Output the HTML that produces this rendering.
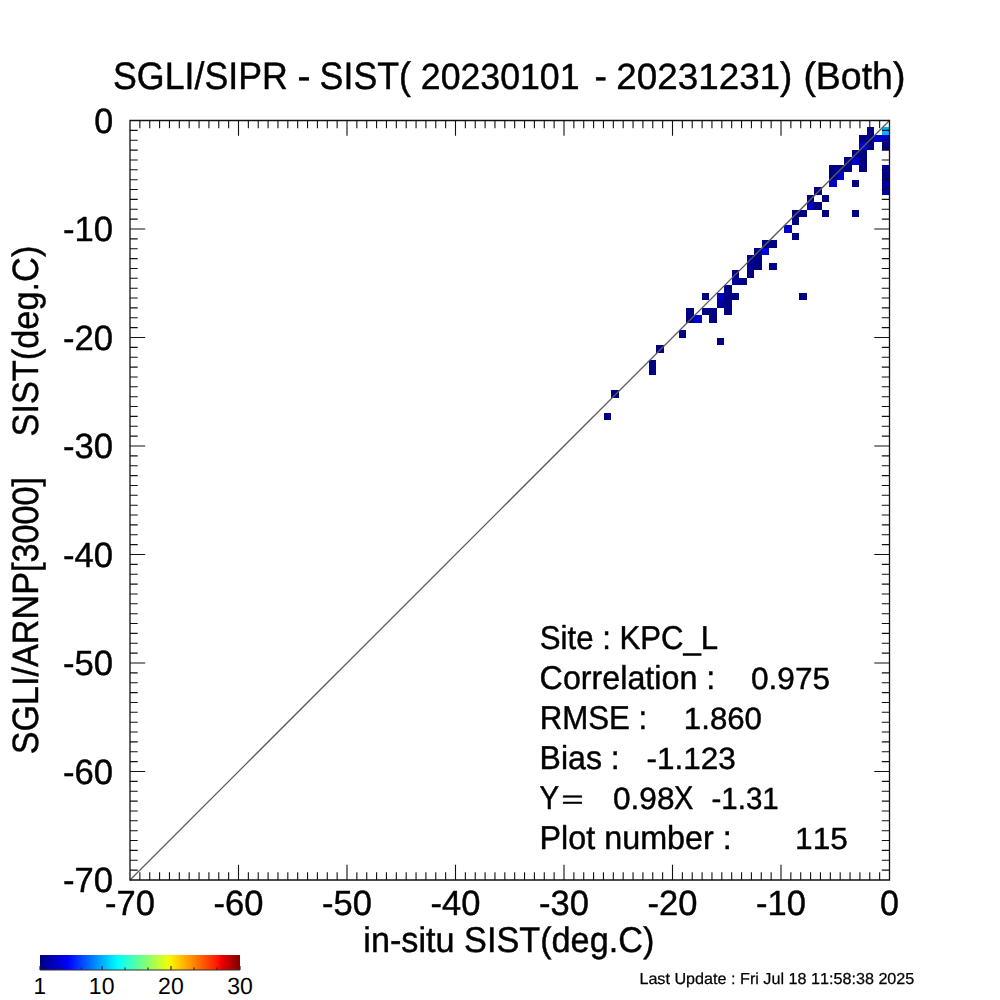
<!DOCTYPE html>
<html><head><meta charset="utf-8"><title>SGLI/SIPR - SIST scatter</title>
<style>html,body{margin:0;padding:0;background:#fff;width:1000px;height:1000px;overflow:hidden}svg{display:block}text{font-kerning:none;text-rendering:geometricPrecision}</style>
</head><body>
<svg width="1000" height="1000" viewBox="0 0 1000 1000" font-family="'Liberation Sans', Arial, Helvetica, sans-serif" fill="#000">
<rect width="1000" height="1000" fill="#fff"/>
<g shape-rendering="crispEdges"><rect x="866.94" y="127.22" width="7.52" height="7.52" fill="rgb(0,0,130)"/><rect x="881.98" y="127.22" width="7.52" height="7.52" fill="rgb(0,178,255)"/><rect x="859.42" y="134.74" width="7.52" height="7.52" fill="rgb(0,0,130)"/><rect x="866.94" y="134.74" width="7.52" height="7.52" fill="rgb(0,0,130)"/><rect x="874.46" y="134.74" width="7.52" height="7.52" fill="rgb(0,0,198)"/><rect x="881.98" y="134.74" width="7.52" height="7.52" fill="rgb(0,0,198)"/><rect x="859.42" y="142.26" width="7.52" height="7.52" fill="rgb(0,0,198)"/><rect x="866.94" y="142.26" width="7.52" height="7.52" fill="rgb(0,0,130)"/><rect x="881.98" y="142.26" width="7.52" height="7.52" fill="rgb(0,0,130)"/><rect x="851.90" y="149.78" width="7.52" height="7.52" fill="rgb(0,0,130)"/><rect x="859.42" y="149.78" width="7.52" height="7.52" fill="rgb(0,0,130)"/><rect x="844.38" y="157.30" width="7.52" height="7.52" fill="rgb(0,0,130)"/><rect x="851.90" y="157.30" width="7.52" height="7.52" fill="rgb(0,0,198)"/><rect x="859.42" y="157.30" width="7.52" height="7.52" fill="rgb(0,0,130)"/><rect x="829.34" y="164.82" width="7.52" height="7.52" fill="rgb(0,0,130)"/><rect x="836.86" y="164.82" width="7.52" height="7.52" fill="rgb(0,0,130)"/><rect x="844.38" y="164.82" width="7.52" height="7.52" fill="rgb(0,0,130)"/><rect x="859.42" y="164.82" width="7.52" height="7.52" fill="rgb(0,0,130)"/><rect x="881.98" y="164.82" width="7.52" height="7.52" fill="rgb(0,0,162)"/><rect x="829.34" y="172.34" width="7.52" height="7.52" fill="rgb(0,0,130)"/><rect x="836.86" y="172.34" width="7.52" height="7.52" fill="rgb(0,0,198)"/><rect x="881.98" y="172.34" width="7.52" height="7.52" fill="rgb(0,0,130)"/><rect x="829.34" y="179.86" width="7.52" height="7.52" fill="rgb(0,0,198)"/><rect x="851.90" y="179.86" width="7.52" height="7.52" fill="rgb(0,0,130)"/><rect x="881.98" y="179.86" width="7.52" height="7.52" fill="rgb(0,0,162)"/><rect x="814.30" y="187.38" width="7.52" height="7.52" fill="rgb(0,0,130)"/><rect x="881.98" y="187.38" width="7.52" height="7.52" fill="rgb(0,0,162)"/><rect x="806.78" y="194.90" width="7.52" height="7.52" fill="rgb(0,0,130)"/><rect x="821.82" y="194.90" width="7.52" height="7.52" fill="rgb(0,0,130)"/><rect x="806.78" y="202.42" width="7.52" height="7.52" fill="rgb(0,0,198)"/><rect x="814.30" y="202.42" width="7.52" height="7.52" fill="rgb(0,0,130)"/><rect x="791.74" y="209.94" width="7.52" height="7.52" fill="rgb(0,0,130)"/><rect x="799.26" y="209.94" width="7.52" height="7.52" fill="rgb(0,0,130)"/><rect x="821.82" y="209.94" width="7.52" height="7.52" fill="rgb(0,0,130)"/><rect x="851.90" y="209.94" width="7.52" height="7.52" fill="rgb(0,0,130)"/><rect x="791.74" y="217.46" width="7.52" height="7.52" fill="rgb(0,0,130)"/><rect x="784.22" y="224.98" width="7.52" height="7.52" fill="rgb(0,0,198)"/><rect x="791.74" y="232.50" width="7.52" height="7.52" fill="rgb(0,0,130)"/><rect x="761.66" y="240.02" width="7.52" height="7.52" fill="rgb(0,0,130)"/><rect x="769.18" y="240.02" width="7.52" height="7.52" fill="rgb(0,0,130)"/><rect x="754.14" y="247.54" width="7.52" height="7.52" fill="rgb(0,0,130)"/><rect x="761.66" y="247.54" width="7.52" height="7.52" fill="rgb(0,0,228)"/><rect x="746.62" y="255.06" width="7.52" height="7.52" fill="rgb(0,0,148)"/><rect x="754.14" y="255.06" width="7.52" height="7.52" fill="rgb(0,0,130)"/><rect x="746.62" y="262.58" width="7.52" height="7.52" fill="rgb(0,0,148)"/><rect x="754.14" y="262.58" width="7.52" height="7.52" fill="rgb(0,0,130)"/><rect x="769.18" y="262.58" width="7.52" height="7.52" fill="rgb(0,0,130)"/><rect x="731.58" y="270.10" width="7.52" height="7.52" fill="rgb(0,0,130)"/><rect x="746.62" y="270.10" width="7.52" height="7.52" fill="rgb(0,0,130)"/><rect x="731.58" y="277.62" width="7.52" height="7.52" fill="rgb(0,0,162)"/><rect x="739.10" y="277.62" width="7.52" height="7.52" fill="rgb(0,0,130)"/><rect x="724.06" y="285.14" width="7.52" height="7.52" fill="rgb(0,0,130)"/><rect x="701.50" y="292.66" width="7.52" height="7.52" fill="rgb(0,0,130)"/><rect x="716.54" y="292.66" width="7.52" height="7.52" fill="rgb(0,0,198)"/><rect x="724.06" y="292.66" width="7.52" height="7.52" fill="rgb(0,0,130)"/><rect x="731.58" y="292.66" width="7.52" height="7.52" fill="rgb(0,0,130)"/><rect x="799.26" y="292.66" width="7.52" height="7.52" fill="rgb(0,0,130)"/><rect x="716.54" y="300.18" width="7.52" height="7.52" fill="rgb(0,0,162)"/><rect x="724.06" y="300.18" width="7.52" height="7.52" fill="rgb(0,0,130)"/><rect x="686.47" y="307.70" width="7.52" height="7.52" fill="rgb(0,0,130)"/><rect x="701.50" y="307.70" width="7.52" height="7.52" fill="rgb(0,0,130)"/><rect x="709.02" y="307.70" width="7.52" height="7.52" fill="rgb(0,0,130)"/><rect x="724.06" y="307.70" width="7.52" height="7.52" fill="rgb(0,0,130)"/><rect x="686.47" y="315.21" width="7.52" height="7.52" fill="rgb(0,0,130)"/><rect x="693.99" y="315.21" width="7.52" height="7.52" fill="rgb(0,0,198)"/><rect x="709.02" y="315.21" width="7.52" height="7.52" fill="rgb(0,0,130)"/><rect x="678.95" y="330.25" width="7.52" height="7.52" fill="rgb(0,0,130)"/><rect x="716.54" y="337.77" width="7.52" height="7.52" fill="rgb(0,0,130)"/><rect x="656.39" y="345.29" width="7.52" height="7.52" fill="rgb(0,0,130)"/><rect x="648.87" y="360.33" width="7.52" height="7.52" fill="rgb(0,0,130)"/><rect x="648.87" y="367.85" width="7.52" height="7.52" fill="rgb(0,0,130)"/><rect x="611.27" y="390.41" width="7.52" height="7.52" fill="rgb(0,0,130)"/><rect x="603.75" y="412.97" width="7.52" height="7.52" fill="rgb(0,0,130)"/></g>
<path d="M130.0 880.0L889.5 120.5" stroke="#5c5c5c" stroke-width="1.25" fill="none"/>
<path d="M139.86 880.00v-7.7M139.86 120.50v7.7M149.73 880.00v-7.7M149.73 120.50v7.7M159.59 880.00v-7.7M159.59 120.50v7.7M169.45 880.00v-7.7M169.45 120.50v7.7M179.32 880.00v-7.7M179.32 120.50v7.7M189.18 880.00v-7.7M189.18 120.50v7.7M199.05 880.00v-7.7M199.05 120.50v7.7M208.91 880.00v-7.7M208.91 120.50v7.7M218.77 880.00v-7.7M218.77 120.50v7.7M228.64 880.00v-7.7M228.64 120.50v7.7M238.50 880.00v-15.2M238.50 120.50v15.2M248.36 880.00v-7.7M248.36 120.50v7.7M258.23 880.00v-7.7M258.23 120.50v7.7M268.09 880.00v-7.7M268.09 120.50v7.7M277.95 880.00v-7.7M277.95 120.50v7.7M287.82 880.00v-7.7M287.82 120.50v7.7M297.68 880.00v-7.7M297.68 120.50v7.7M307.55 880.00v-7.7M307.55 120.50v7.7M317.41 880.00v-7.7M317.41 120.50v7.7M327.27 880.00v-7.7M327.27 120.50v7.7M337.14 880.00v-7.7M337.14 120.50v7.7M347.00 880.00v-15.2M347.00 120.50v15.2M356.86 880.00v-7.7M356.86 120.50v7.7M366.73 880.00v-7.7M366.73 120.50v7.7M376.59 880.00v-7.7M376.59 120.50v7.7M386.45 880.00v-7.7M386.45 120.50v7.7M396.32 880.00v-7.7M396.32 120.50v7.7M406.18 880.00v-7.7M406.18 120.50v7.7M416.05 880.00v-7.7M416.05 120.50v7.7M425.91 880.00v-7.7M425.91 120.50v7.7M435.77 880.00v-7.7M435.77 120.50v7.7M445.64 880.00v-7.7M445.64 120.50v7.7M455.50 880.00v-15.2M455.50 120.50v15.2M465.36 880.00v-7.7M465.36 120.50v7.7M475.23 880.00v-7.7M475.23 120.50v7.7M485.09 880.00v-7.7M485.09 120.50v7.7M494.95 880.00v-7.7M494.95 120.50v7.7M504.82 880.00v-7.7M504.82 120.50v7.7M514.68 880.00v-7.7M514.68 120.50v7.7M524.55 880.00v-7.7M524.55 120.50v7.7M534.41 880.00v-7.7M534.41 120.50v7.7M544.27 880.00v-7.7M544.27 120.50v7.7M554.14 880.00v-7.7M554.14 120.50v7.7M564.00 880.00v-15.2M564.00 120.50v15.2M573.86 880.00v-7.7M573.86 120.50v7.7M583.73 880.00v-7.7M583.73 120.50v7.7M593.59 880.00v-7.7M593.59 120.50v7.7M603.45 880.00v-7.7M603.45 120.50v7.7M613.32 880.00v-7.7M613.32 120.50v7.7M623.18 880.00v-7.7M623.18 120.50v7.7M633.05 880.00v-7.7M633.05 120.50v7.7M642.91 880.00v-7.7M642.91 120.50v7.7M652.77 880.00v-7.7M652.77 120.50v7.7M662.64 880.00v-7.7M662.64 120.50v7.7M672.50 880.00v-15.2M672.50 120.50v15.2M682.36 880.00v-7.7M682.36 120.50v7.7M692.23 880.00v-7.7M692.23 120.50v7.7M702.09 880.00v-7.7M702.09 120.50v7.7M711.95 880.00v-7.7M711.95 120.50v7.7M721.82 880.00v-7.7M721.82 120.50v7.7M731.68 880.00v-7.7M731.68 120.50v7.7M741.55 880.00v-7.7M741.55 120.50v7.7M751.41 880.00v-7.7M751.41 120.50v7.7M761.27 880.00v-7.7M761.27 120.50v7.7M771.14 880.00v-7.7M771.14 120.50v7.7M781.00 880.00v-15.2M781.00 120.50v15.2M790.86 880.00v-7.7M790.86 120.50v7.7M800.73 880.00v-7.7M800.73 120.50v7.7M810.59 880.00v-7.7M810.59 120.50v7.7M820.45 880.00v-7.7M820.45 120.50v7.7M830.32 880.00v-7.7M830.32 120.50v7.7M840.18 880.00v-7.7M840.18 120.50v7.7M850.05 880.00v-7.7M850.05 120.50v7.7M859.91 880.00v-7.7M859.91 120.50v7.7M869.77 880.00v-7.7M869.77 120.50v7.7M879.64 880.00v-7.7M879.64 120.50v7.7M130.00 130.36h7.7M889.50 130.36h-7.7M130.00 140.23h7.7M889.50 140.23h-7.7M130.00 150.09h7.7M889.50 150.09h-7.7M130.00 159.95h7.7M889.50 159.95h-7.7M130.00 169.82h7.7M889.50 169.82h-7.7M130.00 179.68h7.7M889.50 179.68h-7.7M130.00 189.55h7.7M889.50 189.55h-7.7M130.00 199.41h7.7M889.50 199.41h-7.7M130.00 209.27h7.7M889.50 209.27h-7.7M130.00 219.14h7.7M889.50 219.14h-7.7M130.00 229.00h15.2M889.50 229.00h-15.2M130.00 238.86h7.7M889.50 238.86h-7.7M130.00 248.73h7.7M889.50 248.73h-7.7M130.00 258.59h7.7M889.50 258.59h-7.7M130.00 268.45h7.7M889.50 268.45h-7.7M130.00 278.32h7.7M889.50 278.32h-7.7M130.00 288.18h7.7M889.50 288.18h-7.7M130.00 298.05h7.7M889.50 298.05h-7.7M130.00 307.91h7.7M889.50 307.91h-7.7M130.00 317.77h7.7M889.50 317.77h-7.7M130.00 327.64h7.7M889.50 327.64h-7.7M130.00 337.50h15.2M889.50 337.50h-15.2M130.00 347.36h7.7M889.50 347.36h-7.7M130.00 357.23h7.7M889.50 357.23h-7.7M130.00 367.09h7.7M889.50 367.09h-7.7M130.00 376.95h7.7M889.50 376.95h-7.7M130.00 386.82h7.7M889.50 386.82h-7.7M130.00 396.68h7.7M889.50 396.68h-7.7M130.00 406.55h7.7M889.50 406.55h-7.7M130.00 416.41h7.7M889.50 416.41h-7.7M130.00 426.27h7.7M889.50 426.27h-7.7M130.00 436.14h7.7M889.50 436.14h-7.7M130.00 446.00h15.2M889.50 446.00h-15.2M130.00 455.86h7.7M889.50 455.86h-7.7M130.00 465.73h7.7M889.50 465.73h-7.7M130.00 475.59h7.7M889.50 475.59h-7.7M130.00 485.45h7.7M889.50 485.45h-7.7M130.00 495.32h7.7M889.50 495.32h-7.7M130.00 505.18h7.7M889.50 505.18h-7.7M130.00 515.05h7.7M889.50 515.05h-7.7M130.00 524.91h7.7M889.50 524.91h-7.7M130.00 534.77h7.7M889.50 534.77h-7.7M130.00 544.64h7.7M889.50 544.64h-7.7M130.00 554.50h15.2M889.50 554.50h-15.2M130.00 564.36h7.7M889.50 564.36h-7.7M130.00 574.23h7.7M889.50 574.23h-7.7M130.00 584.09h7.7M889.50 584.09h-7.7M130.00 593.95h7.7M889.50 593.95h-7.7M130.00 603.82h7.7M889.50 603.82h-7.7M130.00 613.68h7.7M889.50 613.68h-7.7M130.00 623.55h7.7M889.50 623.55h-7.7M130.00 633.41h7.7M889.50 633.41h-7.7M130.00 643.27h7.7M889.50 643.27h-7.7M130.00 653.14h7.7M889.50 653.14h-7.7M130.00 663.00h15.2M889.50 663.00h-15.2M130.00 672.86h7.7M889.50 672.86h-7.7M130.00 682.73h7.7M889.50 682.73h-7.7M130.00 692.59h7.7M889.50 692.59h-7.7M130.00 702.45h7.7M889.50 702.45h-7.7M130.00 712.32h7.7M889.50 712.32h-7.7M130.00 722.18h7.7M889.50 722.18h-7.7M130.00 732.05h7.7M889.50 732.05h-7.7M130.00 741.91h7.7M889.50 741.91h-7.7M130.00 751.77h7.7M889.50 751.77h-7.7M130.00 761.64h7.7M889.50 761.64h-7.7M130.00 771.50h15.2M889.50 771.50h-15.2M130.00 781.36h7.7M889.50 781.36h-7.7M130.00 791.23h7.7M889.50 791.23h-7.7M130.00 801.09h7.7M889.50 801.09h-7.7M130.00 810.95h7.7M889.50 810.95h-7.7M130.00 820.82h7.7M889.50 820.82h-7.7M130.00 830.68h7.7M889.50 830.68h-7.7M130.00 840.55h7.7M889.50 840.55h-7.7M130.00 850.41h7.7M889.50 850.41h-7.7M130.00 860.27h7.7M889.50 860.27h-7.7M130.00 870.14h7.7M889.50 870.14h-7.7" stroke="#111" stroke-width="1.1" fill="none"/>
<path d="M130.0 120.5H889.5V880.0H130.0Z" stroke="#111" stroke-width="1.3" fill="none"/>
<defs><linearGradient id="jet" x1="0" x2="1" y1="0" y2="0"><stop offset="0.000" stop-color="rgb(0,0,128)"/><stop offset="0.140" stop-color="rgb(0,0,255)"/><stop offset="0.390" stop-color="rgb(0,255,255)"/><stop offset="0.640" stop-color="rgb(236,255,10)"/><stop offset="0.650" stop-color="rgb(246,246,0)"/><stop offset="0.660" stop-color="rgb(255,236,0)"/><stop offset="0.890" stop-color="rgb(255,19,0)"/><stop offset="0.910" stop-color="rgb(232,0,0)"/><stop offset="1.000" stop-color="rgb(128,0,0)"/></linearGradient></defs><rect x="40.0" y="955.0" width="200.0" height="15.0" fill="url(#jet)"/><path d="M40.00 970.0v-4M60.69 970.0v-2.5M81.38 970.0v-2.5M102.07 970.0v-4M125.06 970.0v-2.5M148.05 970.0v-2.5M171.03 970.0v-4M194.02 970.0v-2.5M217.01 970.0v-2.5M240.00 970.0v-4" stroke="#222" stroke-width="1.1" fill="none"/><path d="M40.0 970.0H240.0" stroke="#333" stroke-width="1.1" fill="none"/><text x="33.41" y="994.20" font-size="23.4" textLength="12.56" lengthAdjust="spacingAndGlyphs" stroke-width="0.35">1</text><text x="88.82" y="994.20" font-size="23.4" textLength="25.64" lengthAdjust="spacingAndGlyphs" stroke-width="0.35">10</text><text x="158.08" y="994.20" font-size="23.4" textLength="25.65" lengthAdjust="spacingAndGlyphs" stroke-width="0.35">20</text><text x="227.19" y="994.20" font-size="23.4" textLength="25.65" lengthAdjust="spacingAndGlyphs" stroke-width="0.35">30</text>
<g style="font-kerning:none;opacity:0.999" stroke="#000" stroke-linejoin="round"><text x="94.16" y="132.90" font-size="35.0" textLength="18.94" lengthAdjust="spacingAndGlyphs" stroke-width="0.45">0</text><text x="880.03" y="915.00" font-size="35.0" textLength="18.94" lengthAdjust="spacingAndGlyphs" stroke-width="0.45">0</text><text x="63.09" y="241.40" font-size="35.0" textLength="50.04" lengthAdjust="spacingAndGlyphs" stroke-width="0.45">-10</text><text x="755.99" y="915.00" font-size="35.0" textLength="49.83" lengthAdjust="spacingAndGlyphs" stroke-width="0.45">-10</text><text x="63.09" y="349.90" font-size="35.0" textLength="50.04" lengthAdjust="spacingAndGlyphs" stroke-width="0.45">-20</text><text x="647.49" y="915.00" font-size="35.0" textLength="49.83" lengthAdjust="spacingAndGlyphs" stroke-width="0.45">-20</text><text x="63.09" y="458.40" font-size="35.0" textLength="50.04" lengthAdjust="spacingAndGlyphs" stroke-width="0.45">-30</text><text x="538.99" y="915.00" font-size="35.0" textLength="49.83" lengthAdjust="spacingAndGlyphs" stroke-width="0.45">-30</text><text x="63.09" y="566.90" font-size="35.0" textLength="50.04" lengthAdjust="spacingAndGlyphs" stroke-width="0.45">-40</text><text x="430.49" y="915.00" font-size="35.0" textLength="49.83" lengthAdjust="spacingAndGlyphs" stroke-width="0.45">-40</text><text x="63.09" y="675.40" font-size="35.0" textLength="50.04" lengthAdjust="spacingAndGlyphs" stroke-width="0.45">-50</text><text x="321.99" y="915.00" font-size="35.0" textLength="49.83" lengthAdjust="spacingAndGlyphs" stroke-width="0.45">-50</text><text x="63.09" y="783.90" font-size="35.0" textLength="50.04" lengthAdjust="spacingAndGlyphs" stroke-width="0.45">-60</text><text x="213.49" y="915.00" font-size="35.0" textLength="49.83" lengthAdjust="spacingAndGlyphs" stroke-width="0.45">-60</text><text x="63.09" y="892.40" font-size="35.0" textLength="50.04" lengthAdjust="spacingAndGlyphs" stroke-width="0.45">-70</text><text x="104.99" y="915.00" font-size="35.0" textLength="49.83" lengthAdjust="spacingAndGlyphs" stroke-width="0.45">-70</text><text x="113.00" y="89.20" font-size="38.3" textLength="174.83" lengthAdjust="spacingAndGlyphs" stroke-width="0.45">SGLI/SIPR</text><text x="297.49" y="89.20" font-size="38.3" textLength="13.03" lengthAdjust="spacingAndGlyphs" stroke-width="0.45">-</text><text x="319.60" y="89.20" font-size="38.3" textLength="91.38" lengthAdjust="spacingAndGlyphs" stroke-width="0.45">SIST(</text><text x="594.56" y="89.20" font-size="38.3" textLength="12.48" lengthAdjust="spacingAndGlyphs" stroke-width="0.45">-</text><text x="779.91" y="89.20" font-size="38.3" textLength="12.25" lengthAdjust="spacingAndGlyphs" stroke-width="0.45">)</text><text x="803.40" y="89.20" font-size="38.3" textLength="102.00" lengthAdjust="spacingAndGlyphs" stroke-width="0.45">(Both)</text><text x="420.83" y="89.10" font-size="36.4" textLength="158.69" lengthAdjust="spacingAndGlyphs" stroke-width="0.45">20230101</text><text x="616.37" y="89.10" font-size="36.4" textLength="163.70" lengthAdjust="spacingAndGlyphs" stroke-width="0.45">20231231</text><text x="363.34" y="952.10" font-size="35.7" textLength="290.96" lengthAdjust="spacingAndGlyphs" stroke-width="0.45">in-situ SIST(deg.C)</text><text transform="translate(37.6,0) rotate(-90)" x="-754.33" y="0" font-size="36.6" textLength="277.24" lengthAdjust="spacingAndGlyphs" stroke-width="0.45">SGLI/ARNP[3000]</text><text transform="translate(37.6,0) rotate(-90)" x="-436.53" y="0" font-size="36.6" textLength="190.84" lengthAdjust="spacingAndGlyphs" stroke-width="0.45">SIST(deg.C)</text><text x="539.81" y="648.80" font-size="33.0" textLength="178.40" lengthAdjust="spacingAndGlyphs" stroke-width="0.45">Site : KPC_L</text><text x="539.59" y="688.80" font-size="33.0" textLength="175.73" lengthAdjust="spacingAndGlyphs" stroke-width="0.45">Correlation :</text><text x="750.99" y="688.80" font-size="30.7" textLength="79.11" lengthAdjust="spacingAndGlyphs" stroke-width="0.45">0.975</text><text x="539.66" y="728.80" font-size="33.0" textLength="107.56" lengthAdjust="spacingAndGlyphs" stroke-width="0.45">RMSE :</text><text x="683.85" y="728.80" font-size="30.7" textLength="78.15" lengthAdjust="spacingAndGlyphs" stroke-width="0.45">1.860</text><text x="539.60" y="768.80" font-size="33.0" textLength="80.10" lengthAdjust="spacingAndGlyphs" stroke-width="0.45">Bias :</text><text x="646.53" y="768.80" font-size="30.7" textLength="89.23" lengthAdjust="spacingAndGlyphs" stroke-width="0.45">-1.123</text><text x="539.58" y="808.80" font-size="33.0" textLength="19.64" lengthAdjust="spacingAndGlyphs" stroke-width="0.45">Y</text><text x="612.99" y="808.80" font-size="30.7" textLength="61.46" lengthAdjust="spacingAndGlyphs" stroke-width="0.45">0.98</text><text x="674.07" y="808.80" font-size="33.0" textLength="19.31" lengthAdjust="spacingAndGlyphs" stroke-width="0.45">X</text><text x="711.51" y="808.80" font-size="30.7" textLength="67.20" lengthAdjust="spacingAndGlyphs" stroke-width="0.45">-1.31</text><text x="539.57" y="848.80" font-size="33.0" textLength="192.15" lengthAdjust="spacingAndGlyphs" stroke-width="0.45">Plot number :</text><text x="795.11" y="848.80" font-size="30.7" textLength="52.79" lengthAdjust="spacingAndGlyphs" stroke-width="0.45">115</text><text x="561.27" y="807.90" font-size="25" textLength="22.48" lengthAdjust="spacingAndGlyphs" stroke-width="0.3">=</text><text x="639.40" y="984.10" font-size="15.9" textLength="274.95" lengthAdjust="spacingAndGlyphs" stroke-width="0.25">Last Update : Fri Jul 18 11:58:38 2025</text></g>
</svg>
</body></html>
